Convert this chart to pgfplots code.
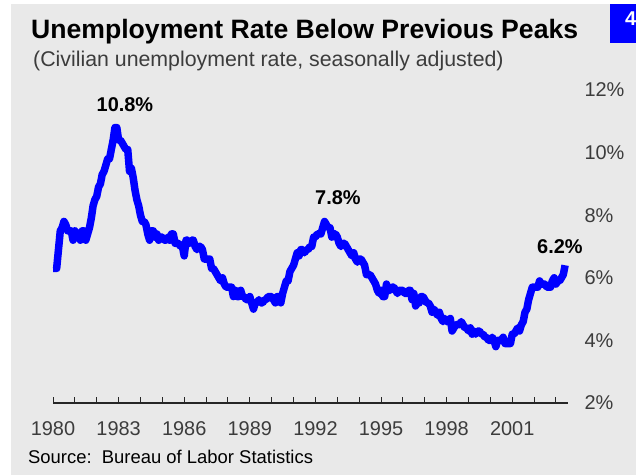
\documentclass[border=0pt]{standalone}
\usepackage{pgfplots}
\pgfplotsset{compat=1.18}
\usepackage{fontspec}
\setmainfont{Liberation Sans}
\definecolor{panel}{RGB}{233,233,233}
\definecolor{tickgray}{RGB}{60,60,60}
\definecolor{lineblue}{RGB}{0,0,255}
\begin{document}
\begin{tikzpicture}
\begin{scope}[x=1bp,y=1bp]
\useasboundingbox (0,0) rectangle (636,475);
\fill[white] (0,0) rectangle (636,475);
\fill[panel] (11,0) rectangle (636,471);
\fill[lineblue] (610,432) rectangle (636,471);
\node[white,font=\bfseries\fontsize{20}{24}\selectfont,anchor=base west,inner sep=0] at (625,449) {4};
% titles
\node[anchor=base west,inner sep=0,font=\bfseries\fontsize{26.7}{30}\selectfont] at (31,436)
  {Unemployment Rate Below Previous Peaks};
\node[anchor=base west,inner sep=0,text=tickgray,font=\fontsize{21.4}{25}\selectfont] at (33,408)
  {(Civilian unemployment rate, seasonally adjusted)};
\node[anchor=base west,inner sep=0,font=\fontsize{18.5}{22}\selectfont] at (28,11)
  {Source:\ \ Bureau of Labor Statistics};
\end{scope}
\begin{axis}[
  at={(53bp,72bp)}, anchor=south west,
  scale only axis, width=515bp, height=313bp,
  xmin=1980, xmax=2003.55, ymin=2, ymax=12,
  axis x line*=bottom, axis y line*=right,
  x axis line style={line width=1.3bp, color=black!85},
  y axis line style={draw=none},
  xtick={1980,1983,...,2001},
  xticklabels={1980,1983,1986,1989,1992,1995,1998,2001},
  minor xtick={1980,...,2003},
  tick align=inside,
  major tick length=6bp, minor tick length=6bp,
  xtick style={line width=1bp, color=black!85},
  minor tick style={line width=1bp, color=black!85},
  ytick={2,4,...,12},
  yticklabels={2\%,4\%,6\%,8\%,10\%,12\%},
  ytick style={draw=none},
  tick label style={font=\fontsize{20}{24}\selectfont, text=tickgray},
  xticklabel style={yshift=-15bp},
  yticklabel style={anchor=west, xshift=13bp},
  clip=false,
]
\addplot[lineblue, line width=7.5bp, line join=round] coordinates {
(1980.000,6.3) (1980.083,6.3) (1980.167,6.3) (1980.250,6.9) (1980.333,7.5) (1980.417,7.6) (1980.500,7.8) (1980.583,7.7) (1980.667,7.5) (1980.750,7.5) (1980.833,7.5) (1980.917,7.2)
(1981.000,7.5) (1981.083,7.4) (1981.167,7.4) (1981.250,7.2) (1981.333,7.5) (1981.417,7.5) (1981.500,7.2) (1981.583,7.4) (1981.667,7.6) (1981.750,7.9) (1981.833,8.3) (1981.917,8.5)
(1982.000,8.6) (1982.083,8.9) (1982.167,9.0) (1982.250,9.3) (1982.333,9.4) (1982.417,9.6) (1982.500,9.8) (1982.583,9.8) (1982.667,10.1) (1982.750,10.4) (1982.833,10.8) (1982.917,10.8)
(1983.000,10.4) (1983.083,10.4) (1983.167,10.3) (1983.250,10.2) (1983.333,10.1) (1983.417,10.1) (1983.500,9.4) (1983.583,9.5) (1983.667,9.2) (1983.750,8.8) (1983.833,8.5) (1983.917,8.3)
(1984.000,8.0) (1984.083,7.8) (1984.167,7.8) (1984.250,7.7) (1984.333,7.4) (1984.417,7.2) (1984.500,7.5) (1984.583,7.5) (1984.667,7.3) (1984.750,7.4) (1984.833,7.2) (1984.917,7.3)
(1985.000,7.3) (1985.083,7.2) (1985.167,7.2) (1985.250,7.3) (1985.333,7.2) (1985.417,7.4) (1985.500,7.4) (1985.583,7.1) (1985.667,7.1) (1985.750,7.1) (1985.833,7.0) (1985.917,7.0)
(1986.000,6.7) (1986.083,7.2) (1986.167,7.2) (1986.250,7.1) (1986.333,7.2) (1986.417,7.2) (1986.500,7.0) (1986.583,6.9) (1986.667,7.0) (1986.750,7.0) (1986.833,6.9) (1986.917,6.6)
(1987.000,6.6) (1987.083,6.6) (1987.167,6.6) (1987.250,6.3) (1987.333,6.3) (1987.417,6.2) (1987.500,6.1) (1987.583,6.0) (1987.667,5.9) (1987.750,6.0) (1987.833,5.8) (1987.917,5.7)
(1988.000,5.7) (1988.083,5.7) (1988.167,5.7) (1988.250,5.4) (1988.333,5.6) (1988.417,5.4) (1988.500,5.4) (1988.583,5.6) (1988.667,5.4) (1988.750,5.4) (1988.833,5.3) (1988.917,5.3)
(1989.000,5.4) (1989.083,5.2) (1989.167,5.0) (1989.250,5.2) (1989.333,5.2) (1989.417,5.3) (1989.500,5.2) (1989.583,5.2) (1989.667,5.3) (1989.750,5.3) (1989.833,5.4) (1989.917,5.4)
(1990.000,5.4) (1990.083,5.3) (1990.167,5.2) (1990.250,5.4) (1990.333,5.4) (1990.417,5.2) (1990.500,5.5) (1990.583,5.7) (1990.667,5.9) (1990.750,5.9) (1990.833,6.2) (1990.917,6.3)
(1991.000,6.4) (1991.083,6.6) (1991.167,6.8) (1991.250,6.7) (1991.333,6.9) (1991.417,6.9) (1991.500,6.8) (1991.583,6.9) (1991.667,6.9) (1991.750,7.0) (1991.833,7.0) (1991.917,7.3)
(1992.000,7.3) (1992.083,7.4) (1992.167,7.4) (1992.250,7.4) (1992.333,7.6) (1992.417,7.8) (1992.500,7.7) (1992.583,7.6) (1992.667,7.6) (1992.750,7.3) (1992.833,7.4) (1992.917,7.4)
(1993.000,7.3) (1993.083,7.1) (1993.167,7.0) (1993.250,7.1) (1993.333,7.1) (1993.417,7.0) (1993.500,6.9) (1993.583,6.8) (1993.667,6.7) (1993.750,6.8) (1993.833,6.6) (1993.917,6.5)
(1994.000,6.6) (1994.083,6.6) (1994.167,6.5) (1994.250,6.4) (1994.333,6.1) (1994.417,6.1) (1994.500,6.1) (1994.583,6.0) (1994.667,5.9) (1994.750,5.8) (1994.833,5.6) (1994.917,5.5)
(1995.000,5.6) (1995.083,5.4) (1995.167,5.4) (1995.250,5.8) (1995.333,5.6) (1995.417,5.6) (1995.500,5.7) (1995.583,5.7) (1995.667,5.6) (1995.750,5.5) (1995.833,5.6) (1995.917,5.6)
(1996.000,5.6) (1996.083,5.5) (1996.167,5.5) (1996.250,5.6) (1996.333,5.6) (1996.417,5.3) (1996.500,5.5) (1996.583,5.1) (1996.667,5.2) (1996.750,5.2) (1996.833,5.4) (1996.917,5.4)
(1997.000,5.3) (1997.083,5.2) (1997.167,5.2) (1997.250,5.1) (1997.333,4.9) (1997.417,5.0) (1997.500,4.9) (1997.583,4.8) (1997.667,4.9) (1997.750,4.7) (1997.833,4.6) (1997.917,4.7)
(1998.000,4.6) (1998.083,4.6) (1998.167,4.7) (1998.250,4.3) (1998.333,4.4) (1998.417,4.5) (1998.500,4.5) (1998.583,4.5) (1998.667,4.6) (1998.750,4.5) (1998.833,4.4) (1998.917,4.4)
(1999.000,4.3) (1999.083,4.4) (1999.167,4.2) (1999.250,4.3) (1999.333,4.2) (1999.417,4.3) (1999.500,4.3) (1999.583,4.2) (1999.667,4.2) (1999.750,4.1) (1999.833,4.1) (1999.917,4.0)
(2000.000,4.0) (2000.083,4.1) (2000.167,4.0) (2000.250,3.8) (2000.333,4.0) (2000.417,4.0) (2000.500,4.0) (2000.583,4.1) (2000.667,3.9) (2000.750,3.9) (2000.833,3.9) (2000.917,3.9)
(2001.000,4.2) (2001.083,4.2) (2001.167,4.3) (2001.250,4.4) (2001.333,4.3) (2001.417,4.5) (2001.500,4.6) (2001.583,4.9) (2001.667,5.0) (2001.750,5.3) (2001.833,5.5) (2001.917,5.7)
(2002.000,5.7) (2002.083,5.7) (2002.167,5.7) (2002.250,5.9) (2002.333,5.8) (2002.417,5.8) (2002.500,5.8) (2002.583,5.7) (2002.667,5.7) (2002.750,5.7) (2002.833,5.9) (2002.917,6.0)
(2003.000,5.8) (2003.083,5.9) (2003.167,5.9) (2003.250,6.0) (2003.333,6.1) (2003.417,6.4)
};
\node[font=\bfseries\fontsize{20}{24}\selectfont] at (axis cs:1983.29,11.52) {10.8\%};
\node[font=\bfseries\fontsize{20}{24}\selectfont] at (axis cs:1993.03,8.55) {7.8\%};
\node[font=\bfseries\fontsize{20}{24}\selectfont] at (axis cs:2003.18,6.98) {6.2\%};
\end{axis}
\end{tikzpicture}
\end{document}
